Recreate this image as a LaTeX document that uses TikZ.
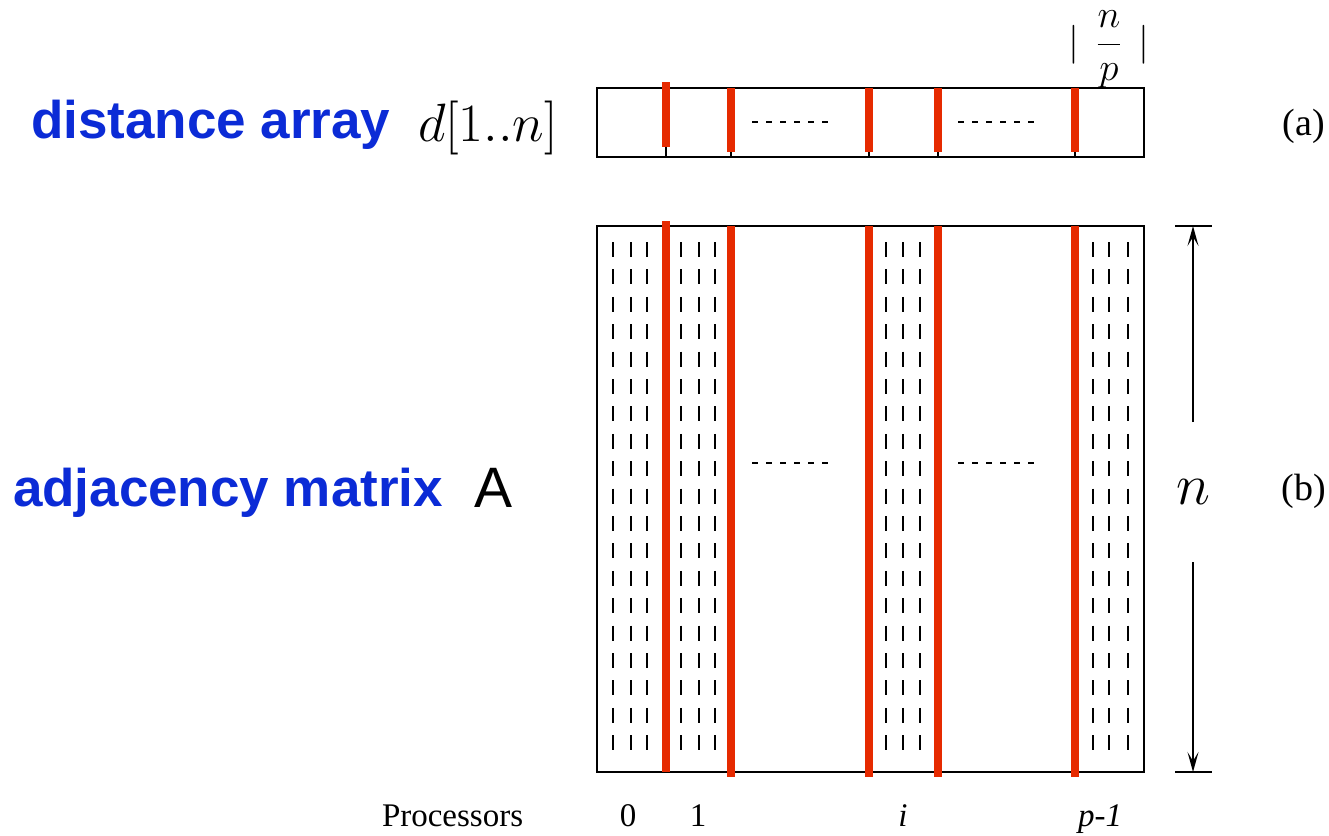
\RequirePackage{fix-cm}
\documentclass[tikz,border=0pt]{standalone}
\usepackage{amsmath}
\usepackage[no-math]{fontspec}
\setmainfont{Liberation Serif}
\newfontfamily\headfont{Liberation Sans}
\usetikzlibrary{arrows.meta}
\definecolor{ink}{HTML}{0B2BD6}
\definecolor{cut}{HTML}{E62A00}

\begin{document}
\begin{tikzpicture}[x=1pt,y=-1pt,line width=2pt,
              head/.style={font=\headfont\fontsize{53}{60}\selectfont\bfseries,text=ink,inner sep=0,anchor=base west},
              sym/.style={font=\fontsize{54}{60}\selectfont,inner sep=0,anchor=base west},
              tag/.style={font=\fontsize{33}{38}\selectfont,inner sep=0,anchor=base},
              part/.style={draw=cut,line width=7.5pt},
              col/.style={line width=2pt,dash pattern=on 15pt off 12.4pt},
              gap/.style={line width=1.6pt,dash pattern=on 6pt off 8pt}]
              \useasboundingbox (0,0) rectangle (1329,835);
              % labels on the left
              \node[head] (dlab) at (30,138) {distance array};
              \node[sym] (dsym) at (417,141) {$d[1..n]$};
              \node[head] (alab) at (12,506) {adjacency matrix};
              \node[sym,font=\headfont\fontsize{57}{60}\selectfont] (asym) at (473,507) {A};
              % distance array
              \draw (597,88) rectangle (1144,157);
              \foreach \x in {666,731,869,938,1075}
                \draw (\x,140) -- (\x,157);
              \draw[part] (666,82) -- (666,147);
              \foreach \x in {731,869,938,1075}
                \draw[part] (\x,88) -- (\x,152);
              \draw[gap] (752,122) -- (828,122);
              \draw[gap] (958,122) -- (1034,122);
              \node[inner sep=0,anchor=base,font=\fontsize{39}{44}\selectfont] (blk) at (1109,54)
                {$|\mkern8mu\smash{\dfrac{n}{p}}\mkern8mu|$};
              \node[tag,font=\fontsize{38}{42}\selectfont] (ta) at (1304,135) {(a)};
              % adjacency matrix
              \draw (597,226) rectangle (1144,772);
              \foreach \x in {613,631,647,681,699,715,886,903,920,1093,1109,1128}
                \draw[col] (\x,242) -- (\x,750.2);
              \draw[part] (666,221) -- (666,772);
              \foreach \x in {731,869,938,1075}
                \draw[part] (\x,226) -- (\x,777);
              \draw[gap] (752,463) -- (828,463);
              \draw[gap] (958,463) -- (1034,463);
              \node[tag,font=\fontsize{38}{42}\selectfont] (tb) at (1304,500) {(b)};
              % size of the matrix
              \node[inner sep=0,minimum height=138pt,font=\fontsize{58}{62}\selectfont] (n) at (1193,492) {$n$};
              \coordinate (ntop) at (1193,226);
              \coordinate (nbot) at (1193,772);
              \draw (1175,226) -- (1212,226) (1175,772) -- (1212,772);
              \draw[line width=1.6pt,-{Stealth[length=20pt,width=11pt,inset=9pt]}] (n) -- (ntop);
              \draw[line width=1.6pt,-{Stealth[length=20pt,width=11pt,inset=9pt]}] (n) -- (nbot);
              % processors
              \node[tag,anchor=base west] (proc) at (381,826) {Processors};
              \node[tag] (p0) at (628,826) {0};
              \node[tag] (p1) at (698,826) {1};
              \node[tag] (pi) at (903,826) {\itshape i};
              \node[tag] (pl) at (1100,826) {\itshape p-1};
\end{tikzpicture}
\end{document}
